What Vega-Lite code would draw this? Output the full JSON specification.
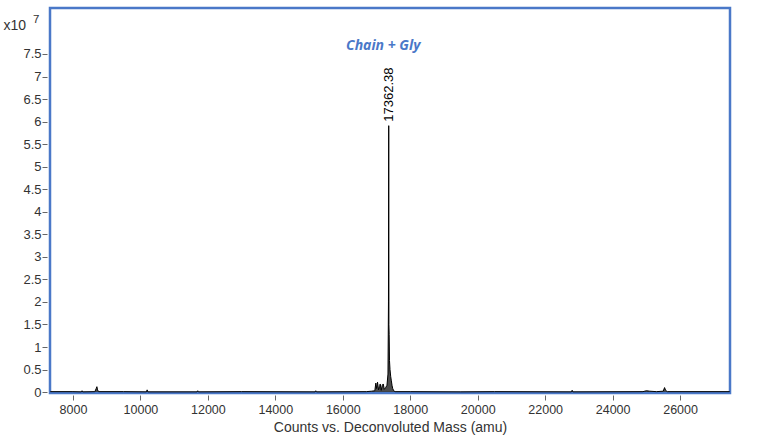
{
  "$schema": "https://vega.github.io/schema/vega-lite/v6.json",
  "width": 680,
  "height": 385,
  "autosize": "none",
  "padding": {"left": 50, "top": 8, "right": 38, "bottom": 42},
  "background": "white",
  "title": {
    "text": "7",
    "anchor": "start",
    "frame": "group",
    "dx": -17,
    "offset": -17,
    "fontSize": 11.5,
    "fontWeight": "normal",
    "font": "Liberation Sans",
    "color": "#333333"
  },
  "config": {
    "font": "Liberation Sans",
    "view": {"stroke": "#4a78c8", "strokeWidth": 2.5},
    "axis": {
      "labelFont": "Liberation Sans",
      "titleFont": "Liberation Sans",
      "labelColor": "#333333",
      "titleColor": "#333333",
      "tickColor": "#666666",
      "grid": false,
      "domain": false,
      "labelOverlap": false
    }
  },
  "datasets": {
    "spectrum": [
      {"mass": 7330, "counts": 100000},
      {"mass": 8000, "counts": 100000},
      {"mass": 8250, "counts": 50000},
      {"mass": 8270, "counts": 300000},
      {"mass": 8290, "counts": 50000},
      {"mass": 8650, "counts": 100000},
      {"mass": 8690, "counts": 800000},
      {"mass": 8710, "counts": 1200000},
      {"mass": 8730, "counts": 500000},
      {"mass": 8760, "counts": 100000},
      {"mass": 9500, "counts": 100000},
      {"mass": 10180, "counts": 50000},
      {"mass": 10200, "counts": 500000},
      {"mass": 10220, "counts": 50000},
      {"mass": 11680, "counts": 50000},
      {"mass": 11700, "counts": 300000},
      {"mass": 11720, "counts": 50000},
      {"mass": 13000, "counts": 100000},
      {"mass": 15180, "counts": 50000},
      {"mass": 15200, "counts": 300000},
      {"mass": 15220, "counts": 50000},
      {"mass": 16700, "counts": 100000},
      {"mass": 16850, "counts": 200000},
      {"mass": 16950, "counts": 300000},
      {"mass": 16980, "counts": 2000000},
      {"mass": 17000, "counts": 800000},
      {"mass": 17030, "counts": 2200000},
      {"mass": 17060, "counts": 500000},
      {"mass": 17090, "counts": 1200000},
      {"mass": 17110, "counts": 1800000},
      {"mass": 17140, "counts": 400000},
      {"mass": 17170, "counts": 1500000},
      {"mass": 17200, "counts": 1800000},
      {"mass": 17230, "counts": 600000},
      {"mass": 17270, "counts": 1000000},
      {"mass": 17310, "counts": 1500000},
      {"mass": 17340, "counts": 4000000},
      {"mass": 17355, "counts": 20000000},
      {"mass": 17362.38, "counts": 59100000},
      {"mass": 17368, "counts": 15000000},
      {"mass": 17375, "counts": 12800000},
      {"mass": 17385, "counts": 7000000},
      {"mass": 17400, "counts": 5000000},
      {"mass": 17420, "counts": 3500000},
      {"mass": 17440, "counts": 2500000},
      {"mass": 17460, "counts": 1500000},
      {"mass": 17480, "counts": 800000},
      {"mass": 17510, "counts": 300000},
      {"mass": 17550, "counts": 100000},
      {"mass": 18000, "counts": 100000},
      {"mass": 19500, "counts": 50000},
      {"mass": 20500, "counts": 100000},
      {"mass": 22780, "counts": 50000},
      {"mass": 22800, "counts": 400000},
      {"mass": 22820, "counts": 50000},
      {"mass": 24900, "counts": 100000},
      {"mass": 25000, "counts": 300000},
      {"mass": 25100, "counts": 200000},
      {"mass": 25300, "counts": 100000},
      {"mass": 25500, "counts": 200000},
      {"mass": 25540, "counts": 1000000},
      {"mass": 25570, "counts": 400000},
      {"mass": 25620, "counts": 100000},
      {"mass": 27470, "counts": 100000}
    ],
    "peaks": [
      {"mass": 17362.38, "counts": 59100000, "label": "17362.38"}
    ],
    "notes": [
      {"mass": 17200, "counts": 76800000, "label": "Chain + Gly"}
    ]
  },
  "layer": [
    {
      "data": {"name": "spectrum"},
      "mark": {"type": "area", "color": "#000000", "line": {"color": "#000000", "strokeWidth": 1}, "clip": true},
      "encoding": {
        "x": {
          "field": "mass",
          "type": "quantitative",
          "scale": {"domain": [7320, 27480], "nice": false, "zero": false},
          "axis": {
            "values": [8000, 10000, 12000, 14000, 16000, 18000, 20000, 22000, 24000, 26000],
            "tickCount": 20,
            "format": "d",
            "labelFontSize": 12.5,
            "labelOverlap": false,
            "tickSize": 5,
            "offset": 2,
            "labelPadding": 3,
            "title": "Counts vs. Deconvoluted Mass (amu)",
            "titleFontSize": 14,
            "titleFontWeight": "normal",
            "titlePadding": 5
          }
        },
        "y": {
          "field": "counts",
          "type": "quantitative",
          "scale": {"domain": [-200000, 85200000], "nice": false, "zero": false},
          "axis": {
            "values": [0, 5000000, 10000000, 15000000, 20000000, 25000000, 30000000, 35000000, 40000000, 45000000, 50000000, 55000000, 60000000, 65000000, 70000000, 75000000],
            "tickCount": 30,
            "labelExpr": "format(datum.value / 10000000, '~g')",
            "labelFontSize": 13,
            "labelOverlap": false,
            "tickSize": 5,
            "offset": 3,
            "labelPadding": 1,
            "title": "x10",
            "titleAngle": 0,
            "titleAlign": "left",
            "titleBaseline": "middle",
            "titleX": -44,
            "titleY": 17,
            "titleFontSize": 14,
            "titleFontWeight": "normal"
          }
        }
      }
    },
    {
      "data": {"name": "peaks"},
      "mark": {"type": "text", "angle": 270, "align": "left", "baseline": "middle", "dx": 4, "fontSize": 13, "color": "#000000"},
      "encoding": {
        "x": {"field": "mass", "type": "quantitative"},
        "y": {"field": "counts", "type": "quantitative"},
        "text": {"field": "label"}
      }
    },
    {
      "data": {"name": "notes"},
      "mark": {"type": "text", "align": "center", "baseline": "middle", "fontSize": 14, "fontWeight": "bold", "fontStyle": "italic", "font": "Open Sans", "color": "#4a78c8"},
      "encoding": {
        "x": {"field": "mass", "type": "quantitative"},
        "y": {"field": "counts", "type": "quantitative"},
        "text": {"field": "label"}
      }
    }
  ]
}
